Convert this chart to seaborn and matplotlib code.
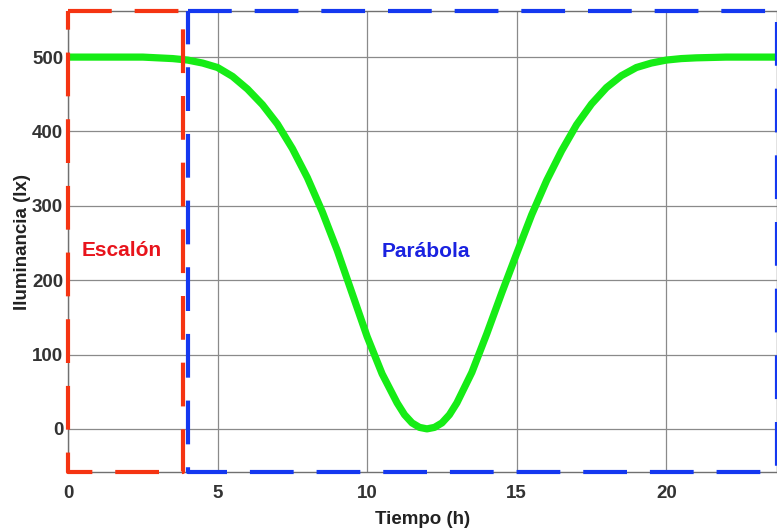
import matplotlib
matplotlib.use("Agg")
import matplotlib.pyplot as plt
import seaborn as sns
import pandas as pd

# Data
tiempo = [0, 1, 2, 2.5, 3, 3.5, 4, 4.5, 5, 5.5, 6, 6.5, 7, 7.5, 8, 8.5, 9, 9.5,
          10, 10.5, 11, 11.25, 11.5, 11.75, 12, 12.25, 12.5, 12.75, 13, 13.5,
          14, 14.5, 15, 15.5, 16, 16.5, 17, 17.5, 18, 18.5, 19, 19.5, 20, 20.5,
          21, 22, 23, 23.7]
iluminancia = [500, 500, 500, 500, 499, 498, 496, 492, 486, 474, 457, 436, 410,
               377, 338, 292, 240, 182, 124, 74, 35, 19, 8, 2, 0, 2, 8, 19, 35,
               76, 128, 183, 236, 288, 334, 374, 409, 437, 459, 475, 486, 492,
               496, 498, 499, 500, 500, 500]

# Regions (x range) and labels
escalon_x = [0, 3.85]
parabola_x = [4.0, 23.7]
region_labels = ["Escalón", "Parábola"]
label_pos_x = [1.8, 11.95]
label_pos_y = [240, 238]

xticks = [0, 5, 10, 15, 20]
yticks = [0, 100, 200, 300, 400, 500]
xlim = (0, 23.7)
ylim = (-58, 562)

sns.set_style("whitegrid")
plt.rcParams['font.family'] = ['Liberation Sans', 'DejaVu Sans']

fig = plt.figure(figsize=(7.77, 5.29), dpi=100)
ax = fig.add_axes([68 / 777, 57 / 529, 1 - 68 / 777, (472 - 11) / 529])

df = pd.DataFrame({"Tiempo": tiempo, "Iluminancia": iluminancia})
sns.lineplot(data=df, x="Tiempo", y="Iluminancia", ax=ax, color="#16ec16",
             linewidth=5.2, zorder=3)
ax.lines[-1].set_solid_joinstyle("round")
ax.lines[-1].set_solid_capstyle("round")

ax.set_xlim(*xlim)
ax.set_ylim(*ylim)
ax.set_xticks(xticks)
ax.set_yticks(yticks)
ax.grid(True, color="#8a8a8a", linewidth=0.9)
for s in ax.spines.values():
    s.set_color("#707070")
    s.set_linewidth(1.0)

ax.tick_params(axis="both", length=0, labelsize=13.5, colors="#333333")
ax.tick_params(axis="x", pad=9.5)
ax.tick_params(axis="y", pad=3.5)
for lab in ax.get_xticklabels() + ax.get_yticklabels():
    lab.set_fontweight("bold")

ax.set_xlabel("Tiempo (h)", fontsize=13.5, fontweight="bold", color="#222222", labelpad=6)
ax.set_ylabel("Iluminancia (lx)", fontsize=13.5, fontweight="bold", color="#222222", labelpad=1)

dash = (10.5, 5.5)
# Escalón rectangle (red)
x0, x1 = escalon_x
ax.plot([x0, x1, x1, x0, x0], [ylim[1], ylim[1], ylim[0], ylim[0], ylim[1]],
        color="#f53412", linewidth=3.0, dashes=dash, clip_on=False, zorder=4,
        dash_capstyle="butt")
# Parábola rectangle (blue)
x0, x1 = parabola_x
ax.plot([x0, x1, x1, x0, x0], [ylim[1], ylim[1], ylim[0], ylim[0], ylim[1]],
        color="#1438f0", linewidth=3.0, dashes=dash, clip_on=False, zorder=4,
        dash_capstyle="butt")

ax.text(label_pos_x[0], label_pos_y[0], region_labels[0], color="#e8141c",
        fontsize=15, fontweight="bold", ha="center", va="center")
ax.text(label_pos_x[1], label_pos_y[1], region_labels[1], color="#1a22e0",
        fontsize=15, fontweight="bold", ha="center", va="center")

fig.savefig("out.png", dpi=100)
